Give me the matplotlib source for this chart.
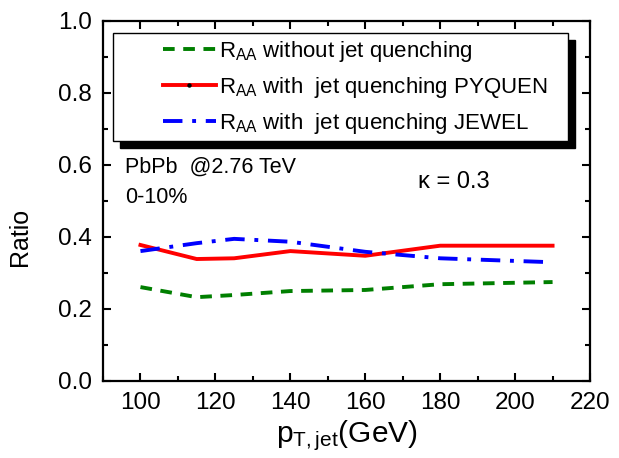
import matplotlib
matplotlib.use("Agg")
import numpy as np
import matplotlib.pyplot as plt
from matplotlib.ticker import MultipleLocator, FormatStrFormatter
from matplotlib.legend_handler import HandlerLine2D
from matplotlib.lines import Line2D

plt.rcParams['font.family'] = ['Liberation Sans', 'DejaVu Sans']
plt.rcParams['mathtext.fontset'] = 'custom'
plt.rcParams['mathtext.rm'] = 'Liberation Sans'
plt.rcParams['mathtext.it'] = 'Liberation Sans'

pt = [100, 115, 125, 140, 160, 180, 210]
raa_noquench = [0.260, 0.232, 0.238, 0.249, 0.252, 0.268, 0.274]
raa_pyquen = [0.377, 0.338, 0.340, 0.360, 0.347, 0.375, 0.375]
raa_jewel = [0.360, 0.382, 0.394, 0.386, 0.358, 0.340, 0.329]
labels = [r'R$_{\rm AA}$ without jet quenching',
          r'R$_{\rm AA}$ with  jet quenching PYQUEN',
          r'R$_{\rm AA}$ with  jet quenching JEWEL']


class OffsetHandler(HandlerLine2D):
    def get_xdata(self, legend, xdescent, ydescent, width, height, fontsize):
        x0 = -xdescent + width * 0.45
        x1 = -xdescent + width
        return np.array([x0, x1]), np.array([(x0 + x1) / 2])


fig = plt.figure(figsize=(6.19, 4.58), dpi=100)
ax = fig.add_axes([0.1664, 0.1688, 0.7868, 0.786])

ax.plot(pt, raa_noquench, color='#007f00', lw=2.8, dashes=(3, 2.2))
ax.plot(pt, raa_pyquen, color='red', lw=2.8)
ax.plot(pt, raa_jewel, color='blue', lw=2.8, dashes=(5, 2.5, 1, 2.5))

h1 = Line2D([], [], color='#007f00', lw=2.8, dashes=(3, 2.2))
h2 = Line2D([], [], color='red', lw=2.8, marker='o', ms=2.2, mfc='black', mec='black')
h3 = Line2D([], [], color='blue', lw=2.8, dashes=(5, 2.5, 1, 2.5))

ax.set_xlim(90, 220)
ax.set_ylim(0.0, 1.0)
ax.xaxis.set_major_locator(MultipleLocator(20))
ax.xaxis.set_minor_locator(MultipleLocator(10))
ax.yaxis.set_major_locator(MultipleLocator(0.2))
ax.yaxis.set_minor_locator(MultipleLocator(0.1))
ax.yaxis.set_major_formatter(FormatStrFormatter('%.1f'))
ax.tick_params(which='both', direction='in', top=True, right=True, width=1.5)
ax.tick_params(which='major', length=6, labelsize=17.5, pad=8)
ax.tick_params(which='minor', length=3.5)
for s in ax.spines.values():
    s.set_linewidth(1.6)

ax.set_xlabel(r'p$_{\rm T,jet}$(GeV)', fontsize=21.5, labelpad=3)
ax.set_ylabel('Ratio', fontsize=18)
ax.yaxis.set_label_coords(-0.145, 0.40)

leg = ax.legend(handles=[h1, h2, h3], labels=labels, loc='upper left',
                bbox_to_anchor=(0.0205, 0.5, 0.934, 0.4658), mode='expand',
                numpoints=1, handler_map={Line2D: OffsetHandler()},
                fontsize=16, frameon=True, fancybox=False, edgecolor='black',
                framealpha=1, handlelength=4.4, borderpad=0.25, labelspacing=0.5,
                handletextpad=0.1, borderaxespad=0,
                shadow={'color': 'black', 'alpha': 1, 'ox': 5, 'oy': -5})
leg.get_frame().set_linewidth(1.0)

ax.text(0.045, 0.594, 'PbPb  @2.76 TeV', transform=ax.transAxes, fontsize=15.5, va='center')
ax.text(0.045, 0.51, '0-10%', transform=ax.transAxes, fontsize=15.5, va='center')
ax.text(0.647, 0.552, 'κ = 0.3', transform=ax.transAxes, fontsize=17, va='center')

fig.savefig('out.png', dpi=100)
